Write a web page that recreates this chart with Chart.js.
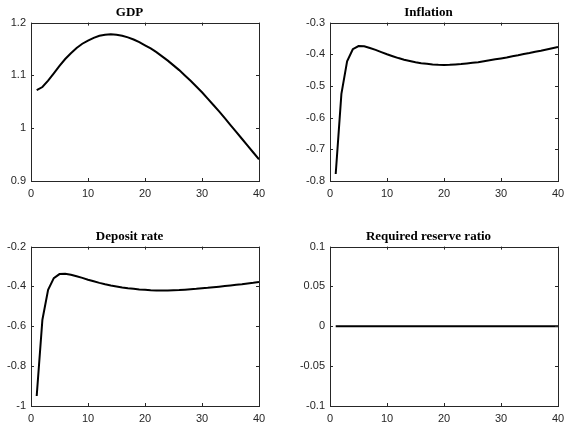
<!DOCTYPE html>
<html>
<head>
<meta charset="utf-8">
<script src="https://cdn.jsdelivr.net/npm/chart.js@4.4.1/dist/chart.umd.min.js"></script>
<style>
  html, body { margin: 0; padding: 0; background: #fff; }
  #wrap { position: relative; width: 565px; height: 424px; }
  .panel { position: absolute; }
</style>
</head>
<body>
<div id="wrap">
  <div class="panel" style="left:0px;top:0px;width:283px;height:200px"><canvas id="gdp"></canvas></div>
  <div class="panel" style="left:299px;top:0px;width:283px;height:200px"><canvas id="infl"></canvas></div>
  <div class="panel" style="left:0px;top:224px;width:283px;height:201px"><canvas id="dep"></canvas></div>
  <div class="panel" style="left:299px;top:224px;width:283px;height:201px"><canvas id="rrr"></canvas></div>
</div>
<script>
const periods = [1, 2, 3, 4, 5, 6, 7, 8, 9, 10, 11, 12, 13, 14, 15, 16, 17, 18, 19, 20,
  21, 22, 23, 24, 25, 26, 27, 28, 29, 30, 31, 32, 33, 34, 35, 36, 37, 38, 39, 40];

const gdp = [1.072, 1.078, 1.090, 1.104, 1.118, 1.131, 1.142, 1.152, 1.160, 1.166,
  1.171, 1.175, 1.177, 1.178, 1.177, 1.175, 1.172, 1.168, 1.163, 1.157,
  1.151, 1.144, 1.136, 1.128, 1.119, 1.110, 1.100, 1.090, 1.079, 1.068,
  1.056, 1.044, 1.032, 1.019, 1.006, 0.993, 0.980, 0.967, 0.954, 0.941];

const inflation = [-0.778, -0.525, -0.422, -0.384, -0.374, -0.375, -0.380, -0.386, -0.393, -0.400,
  -0.406, -0.412, -0.417, -0.421, -0.425, -0.428, -0.430, -0.432, -0.433, -0.4335,
  -0.433, -0.432, -0.431, -0.429, -0.427, -0.425, -0.422, -0.419, -0.416, -0.413,
  -0.410, -0.406, -0.403, -0.399, -0.396, -0.392, -0.389, -0.385, -0.381, -0.377];

const depositRate = [-0.950, -0.567, -0.417, -0.358, -0.338, -0.336, -0.341, -0.349, -0.357, -0.366,
  -0.374, -0.382, -0.389, -0.395, -0.400, -0.405, -0.409, -0.412, -0.415, -0.417,
  -0.419, -0.420, -0.4205, -0.420, -0.419, -0.418, -0.416, -0.414, -0.412, -0.409,
  -0.407, -0.404, -0.401, -0.398, -0.395, -0.392, -0.389, -0.385, -0.382, -0.378];

const reserveRatio = [0, 0, 0, 0, 0, 0, 0, 0, 0, 0, 0, 0, 0, 0, 0, 0, 0, 0, 0, 0,
  0, 0, 0, 0, 0, 0, 0, 0, 0, 0, 0, 0, 0, 0, 0, 0, 0, 0, 0, 0];

const xTicks = [0, 10, 20, 30, 40];
const gdpTicks = [0.9, 1, 1.1, 1.2];
const inflTicks = [-0.8, -0.7, -0.6, -0.5, -0.4, -0.3];
const depTicks = [-1, -0.8, -0.6, -0.4, -0.2];
const rrrTicks = [-0.1, -0.05, 0, 0.05, 0.1];

const axisColor = '#262626';
const tickFont = { family: "'Liberation Sans', Arial, sans-serif", size: 11 };

// MATLAB-like box with inward ticks on all four sides
const boxPlugin = {
  id: 'matlabBox',
  afterDraw(chart) {
    const { ctx, chartArea: a, scales } = chart;
    const len = 3;
    ctx.save();
    ctx.strokeStyle = axisColor;
    ctx.lineWidth = 1;
    ctx.beginPath();
    scales.x.ticks.forEach(t => {
      const px = Math.round(scales.x.getPixelForValue(t.value)) + 0.5;
      ctx.moveTo(px, a.bottom); ctx.lineTo(px, a.bottom - len);
      ctx.moveTo(px, a.top); ctx.lineTo(px, a.top + len);
    });
    scales.y.ticks.forEach(t => {
      const py = Math.round(scales.y.getPixelForValue(t.value)) + 0.5;
      ctx.moveTo(a.left, py); ctx.lineTo(a.left + len, py);
      ctx.moveTo(a.right, py); ctx.lineTo(a.right - len, py);
    });
    ctx.stroke();
    ctx.strokeRect(Math.round(a.left) + 0.5, Math.round(a.top) + 0.5,
      Math.round(a.right - a.left), Math.round(a.bottom - a.top));
    ctx.restore();
  }
};

function fmt(v) {
  return String(parseFloat(Number(v).toFixed(3)));
}

function makePanel(id, title, values, yTicks) {
  new Chart(document.getElementById(id), {
    type: 'line',
    data: {
      datasets: [{
        data: periods.map((p, i) => ({ x: p, y: values[i] })),
        borderColor: '#000',
        borderWidth: 2,
        pointRadius: 0,
        tension: 0,
        fill: false,
      }]
    },
    options: {
      responsive: true,
      maintainAspectRatio: false,
      animation: false,
      layout: { padding: { top: 0, right: 24, bottom: 0, left: 0 } },
      plugins: {
        legend: { display: false },
        tooltip: { enabled: false },
        title: {
          display: true,
          text: title,
          color: '#000',
          font: { family: "'Liberation Serif', 'Times New Roman', serif", size: 13, weight: 'bold', lineHeight: 1.2 },
          padding: { top: 5, bottom: 2 },
        }
      },
      scales: {
        x: {
          type: 'linear',
          min: 0,
          max: 40,
          grid: { display: false, drawTicks: false },
          border: { display: false },
          ticks: { color: axisColor, font: tickFont, padding: 6, maxRotation: 0, callback: fmt },
          afterBuildTicks: s => { s.ticks = xTicks.map(v => ({ value: v })); },
          afterFit: s => { s.height = 19; },
        },
        y: {
          min: yTicks[0],
          max: yTicks[yTicks.length - 1],
          grid: { display: false, drawTicks: false },
          border: { display: false },
          ticks: { color: axisColor, font: tickFont, padding: 5, callback: fmt },
          afterBuildTicks: s => { s.ticks = yTicks.map(v => ({ value: v })); },
          afterFit: s => { s.width = 31; },
        }
      }
    },
    plugins: [boxPlugin]
  });
}

makePanel('gdp', 'GDP', gdp, gdpTicks);
makePanel('infl', 'Inflation', inflation, inflTicks);
makePanel('dep', 'Deposit rate', depositRate, depTicks);
makePanel('rrr', 'Required reserve ratio', reserveRatio, rrrTicks);
</script>
</body>
</html>
